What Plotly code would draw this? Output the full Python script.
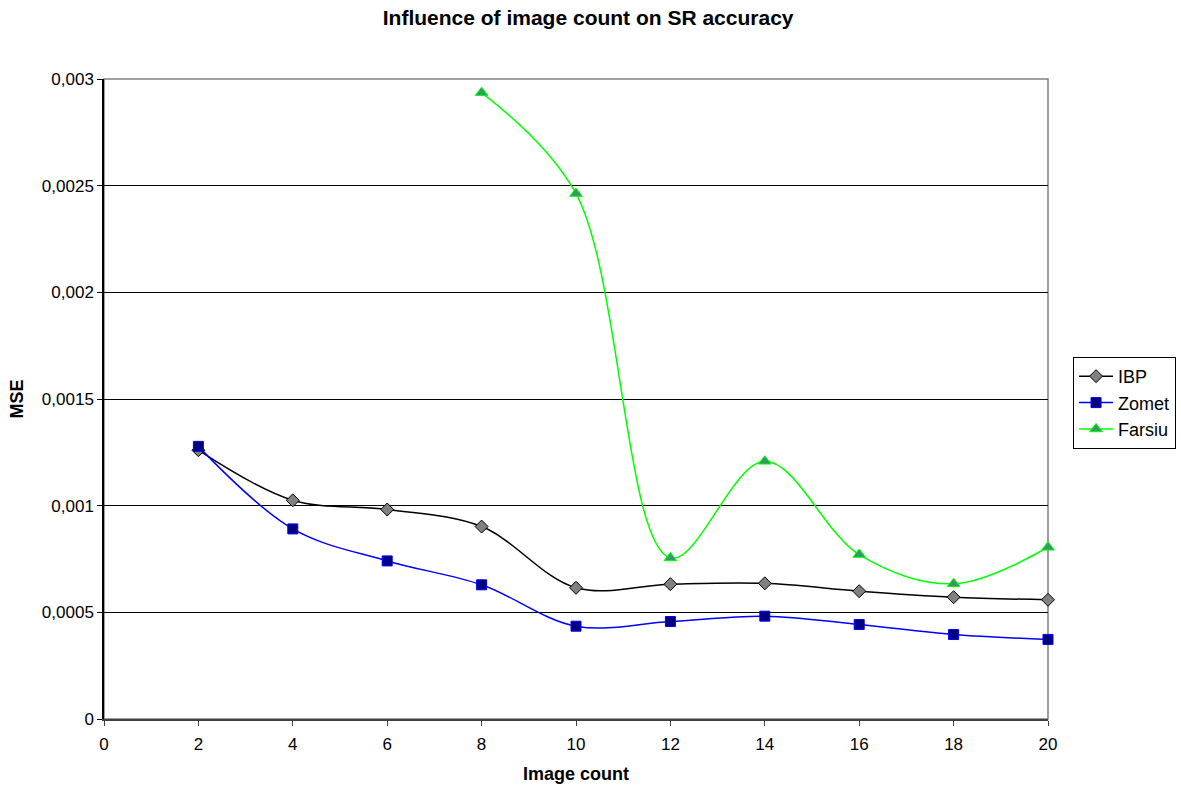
import plotly.graph_objects as go

image_count = [2, 4, 6, 8, 10, 12, 14, 16, 18, 20]
ibp = [0.00126, 0.001025, 0.000982, 0.000902, 0.000615, 0.000632, 0.000636, 0.000599, 0.000571, 0.000559]
zomet = [0.001278, 0.000891, 0.000741, 0.000629, 0.000435, 0.000457, 0.000482, 0.000443, 0.000396, 0.000373]
farsiu_x = [8, 10, 12, 14, 16, 18, 20]
farsiu = [0.002936, 0.002463, 0.000755, 0.001208, 0.000771, 0.000634, 0.000805]

y_ticks = [0, 0.0005, 0.001, 0.0015, 0.002, 0.0025, 0.003]
y_ticktext = ["0", "0,0005", "0,001", "0,0015", "0,002", "0,0025", "0,003"]
x_ticks = [0, 2, 4, 6, 8, 10, 12, 14, 16, 18, 20]

FONT = "Liberation Sans, Arial, sans-serif"

fig = go.Figure()
fig.add_trace(go.Scatter(
    x=image_count, y=ibp, name="IBP", mode="lines+markers",
    line=dict(color="black", width=1.5, shape="spline", smoothing=1),
    marker=dict(symbol="diamond", size=10, color="#808080", line=dict(color="black", width=1)),
    cliponaxis=False))
fig.add_trace(go.Scatter(
    x=image_count, y=zomet, name="Zomet", mode="lines+markers",
    line=dict(color="#0000FF", width=1.5, shape="spline", smoothing=1),
    marker=dict(symbol="square", size=10, color="#000080", line=dict(color="#0000FF", width=1)),
    cliponaxis=False))
fig.add_trace(go.Scatter(
    x=farsiu_x, y=farsiu, name="Farsiu", mode="lines+markers",
    line=dict(color="#00FF00", width=1.5, shape="spline", smoothing=1),
    marker=dict(symbol="triangle-up", size=11, color="#339966", line=dict(color="#00FF00", width=1)),
    cliponaxis=False))

fig.update_layout(
    width=1181, height=787,
    margin=dict(l=104, r=133, t=79, b=68, autoexpand=False),
    paper_bgcolor="white", plot_bgcolor="white",
    font=dict(family=FONT, size=17, color="black"),
    title=dict(text="<b>Influence of image count on SR accuracy</b>", x=0.498, xanchor="center",
               y=0.977, yanchor="middle", font=dict(size=21, family=FONT)),
    showlegend=True,
    legend=dict(xref="container", yref="container", x=0.9086, y=0.5464, xanchor="left", yanchor="top",
                bordercolor="black", borderwidth=1, bgcolor="white",
                font=dict(size=18, family=FONT), tracegroupgap=0, itemwidth=34),
    shapes=[dict(type="rect", xref="paper", yref="paper", x0=0, y0=0, x1=1, y1=1,
                 line=dict(color="#808080", width=1.5), layer="below")],
)
fig.update_xaxes(
    range=[0, 20], tickvals=x_ticks, ticks="outside", ticklen=5, tickcolor="#404040",
    showline=True, linecolor="#404040", linewidth=1.5, showgrid=False, zeroline=False,
    ticklabelstandoff=4,
    title=dict(text="<b>Image count</b>", font=dict(size=18, family=FONT), standoff=14),
    tickfont=dict(size=17, family=FONT))
fig.update_yaxes(
    range=[0, 0.003], tickvals=y_ticks, ticktext=y_ticktext, ticks="outside", ticklen=5,
    tickcolor="black", showline=True, linecolor="black", linewidth=1.5,
    showgrid=True, gridcolor="black", gridwidth=1, zeroline=False,
    title=dict(text="<b>MSE</b>", font=dict(size=18, family=FONT), standoff=14),
    tickfont=dict(size=17, family=FONT))

fig.write_html("out.html")
